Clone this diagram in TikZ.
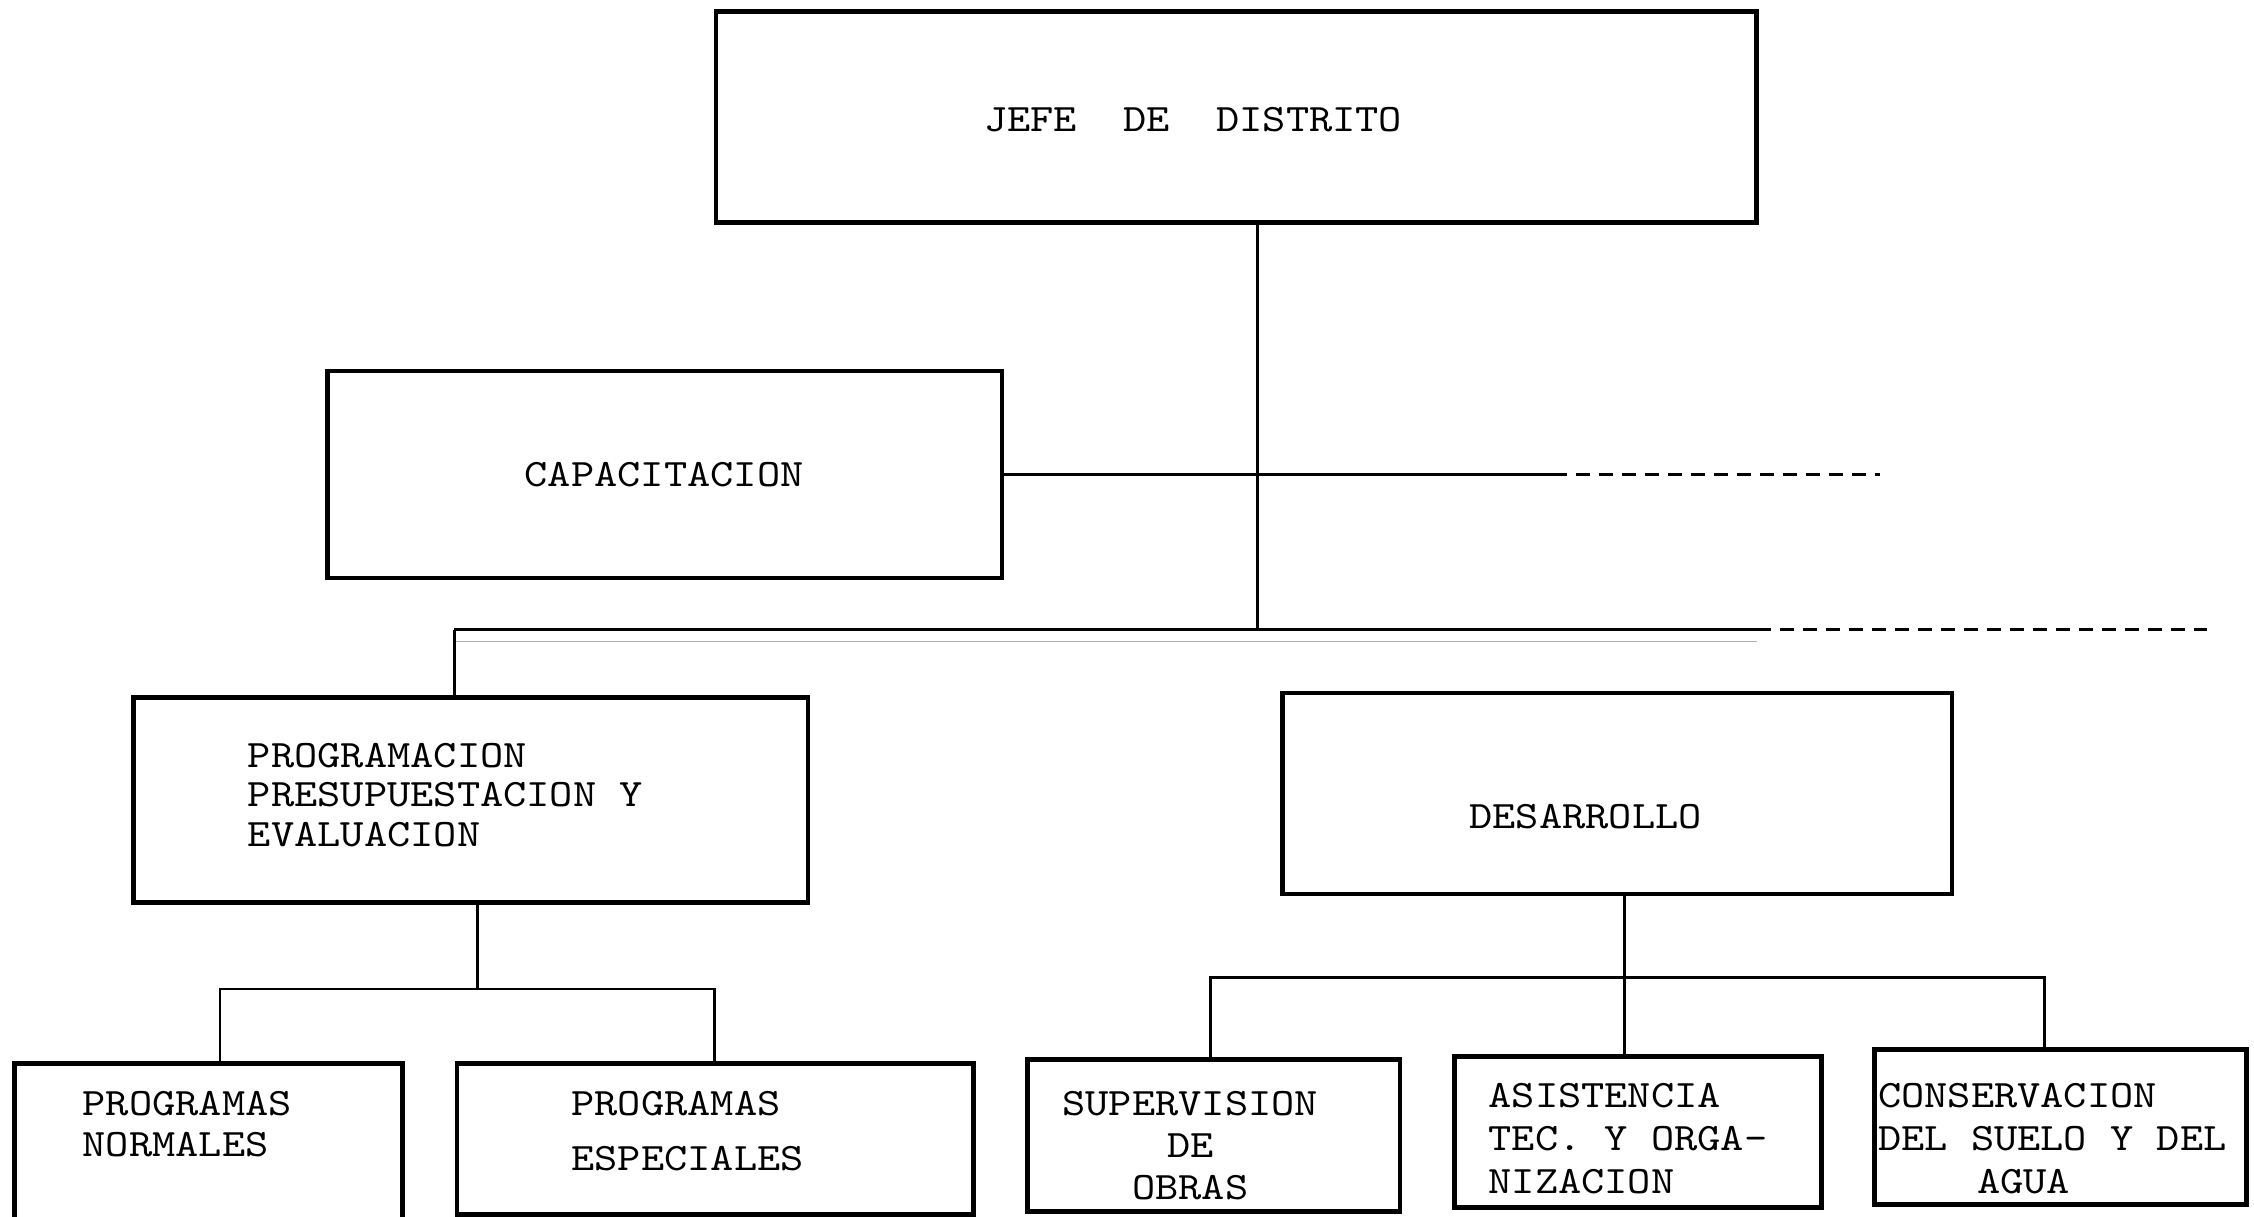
\documentclass[tikz,border=0pt]{standalone}
\usepackage{fontspec}
\setmonofont{Latin Modern Mono}[FakeStretch=1.14]
\usetikzlibrary{calc}
\begin{document}
\begin{tikzpicture}[x=0.4pt,y=-0.4pt,
    box/.style 2 args={draw,line width=1.3pt,minimum width=#1*0.4pt,minimum height=#2*0.4pt,inner sep=0pt},
    txt/.style={font=\ttfamily\fontsize{10.8}{11.6}\selectfont,align=left,inner sep=0pt},
    link/.style={line width=0.8pt},
    dashlink/.style={line width=0.8pt,dash pattern=on 4pt off 2.4pt}]
  \useasboundingbox (0,0) rectangle (1568,846.6);

  \node[box={724}{147}] (jefe) at (860,81.5) {};
  \node[box={469}{144}] (cap) at (462.5,330) {};
  \node[box={469}{143}] (prog) at (327.5,556.5) {};
  \node[box={466}{140}] (des) at (1125,552) {};
  \node[box={270}{120}] (pn) at (145,800) {};
  \node[box={359}{105}] (pe) at (497.5,792.5) {};
  \node[box={259}{106}] (sup) at (844.5,790) {};
  \node[box={255}{105}] (asi) at (1139.5,787.5) {};
  \node[box={259}{108}] (con) at (1433.5,784) {};

  \node[txt] (jefe-t) at (830,83) {JEFE\ \ DE\ \ DISTRITO};
  \node[txt] (cap-t) at (462,330) {CAPACITACION};
  \node[txt,anchor=west] (prog-t) at (172,553) {PROGRAMACION\\[-0.6pt]PRESUPUESTACION Y\\[-0.6pt]EVALUACION};
  \node[txt] (des-t) at (1103,568) {DESARROLLO};
  \node[txt,anchor=west] (pn-t) at (57,782) {PROGRAMAS\\NORMALES};
  \node[txt,anchor=west] (pe-t) at (397,787) {PROGRAMAS\\[3.6pt]ESPECIALES};
  \node[txt,align=center] (sup-t) at (828,797) {SUPERVISION\\DE\\OBRAS};
  \node[txt,anchor=west] (asi-t) at (1035,792) {ASISTENCIA\\[0.4pt]TEC. Y ORGA-\\[0.4pt]NIZACION};
  \node[txt,anchor=west] (con-t) at (1306,792) {CONSERVACION\\[0.4pt]DEL SUELO Y DEL\\[0.4pt]\hspace*{27.6pt}AGUA};

  \coordinate (top) at (875,438);
  \coordinate (left) at (316,438);
  \coordinate (solid) at (1222,438);
  \coordinate (far) at (1535,438);
  \coordinate (capsolid) at (1080,330);
  \coordinate (capfar) at (1308,330);
  \coordinate (pbar) at (332,688);
  \coordinate (pbarl) at (153,688);
  \coordinate (pbarr) at (497,688);
  \coordinate (dbar) at (1130,680);
  \coordinate (dbarl) at (842,680);
  \coordinate (dbarr) at (1422,680);

  % jefe de distrito
  \draw[link] (top |- jefe.south) -- (top);
  \draw[link] (cap.east) -- (capsolid);
  \draw[dashlink] (capsolid) -- (capfar);
  \draw[link] (left) -- (solid);
  \draw[dashlink] (solid) -- (far);
  \draw[line width=0.3pt,gray!60] ($(left)+(0,8)$) -- ($(solid)+(0,8)$);
  \draw[link] (left) -- (left |- prog.north);

  % programacion
  \draw[link] (pbar |- prog.south) -- (pbar);
  \draw[link] (pbarl |- pn.north) -- (pbarl) -- (pbarr) -- (pbarr |- pe.north);

  % desarrollo
  \draw[link] (dbar |- des.south) -- (dbar);
  \draw[link] (dbarl |- sup.north) -- (dbarl) -- (dbarr) -- (dbarr |- con.north);
  \draw[link] (dbar) -- (dbar |- asi.north);
\end{tikzpicture}
\end{document}
